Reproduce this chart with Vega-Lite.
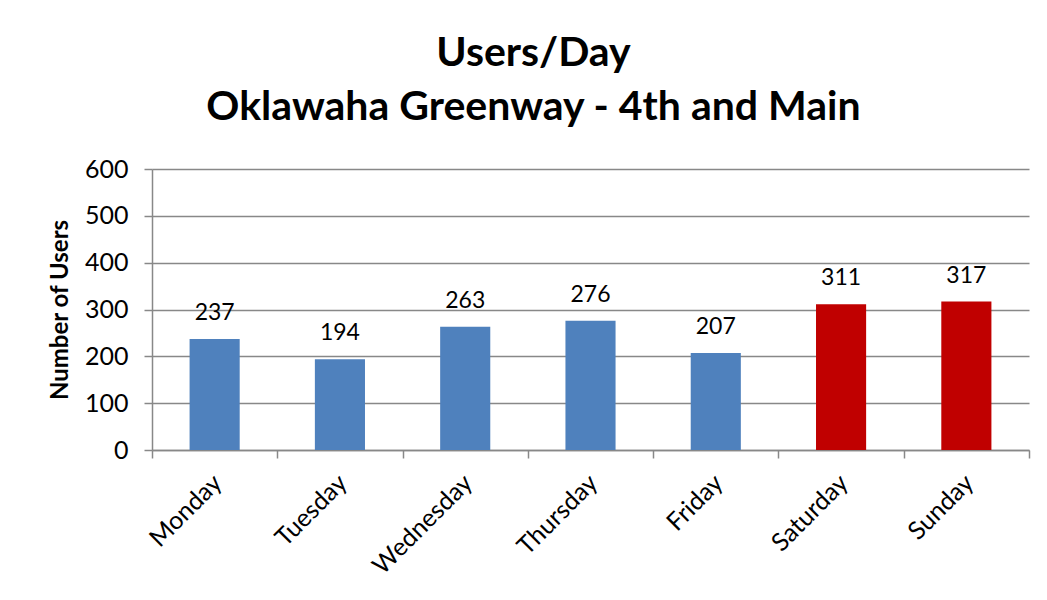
{
  "$schema": "https://vega.github.io/schema/vega-lite/v6.json",
  "autosize": "none",
  "width": 877,
  "height": 281,
  "padding": {"left": 152, "top": 169, "right": 18, "bottom": 150},
  "background": "white",
  "config": {
    "font": "Lato",
    "view": {"stroke": null}
  },
  "title": {
    "text": ["Users/Day", "Oklawaha Greenway - 4th and Main"],
    "fontSize": 41,
    "fontWeight": "bold",
    "font": "Lato",
    "color": "black",
    "anchor": "middle",
    "dx": -57,
    "offset": 28,
    "lineHeight": 54
  },
  "data": {
    "values": [
      {"day": "Monday", "users": 237, "type": "Weekday"},
      {"day": "Tuesday", "users": 194, "type": "Weekday"},
      {"day": "Wednesday", "users": 263, "type": "Weekday"},
      {"day": "Thursday", "users": 276, "type": "Weekday"},
      {"day": "Friday", "users": 207, "type": "Weekday"},
      {"day": "Saturday", "users": 311, "type": "Weekend"},
      {"day": "Sunday", "users": 317, "type": "Weekend"}
    ]
  },
  "encoding": {
    "x": {
      "field": "day",
      "type": "nominal",
      "sort": null,
      "scale": {"paddingInner": 0, "paddingOuter": 0},
      "axis": {
        "title": null,
        "labelAngle": -45,
        "labelFontSize": 25,
        "labelColor": "black",
        "labelPadding": 12,
        "labelOffset": -6,
        "tickBand": "extent",
        "tickSize": 8,
        "tickColor": "#888888",
        "tickWidth": 1.5,
        "domainColor": "#888888",
        "domainWidth": 1.5
      }
    },
    "y": {
      "field": "users",
      "type": "quantitative",
      "scale": {"domain": [0, 600]},
      "axis": {
        "title": "Number of Users",
        "titleFontSize": 24,
        "titleFontWeight": "bold",
        "titleColor": "black",
        "titlePadding": 12,
        "values": [0, 100, 200, 300, 400, 500, 600],
        "labelFontSize": 25,
        "labelColor": "black",
        "labelPadding": 16,
        "tickSize": 8,
        "tickColor": "#888888",
        "tickWidth": 1.5,
        "domainColor": "#888888",
        "domainWidth": 1.5,
        "gridColor": "#888888",
        "gridWidth": 1.5
      }
    }
  },
  "layer": [
    {
      "mark": {"type": "bar", "width": {"band": 0.4}},
      "encoding": {
        "color": {
          "field": "type",
          "type": "nominal",
          "scale": {"domain": ["Weekday", "Weekend"], "range": ["#4F81BD", "#C00000"]},
          "legend": null
        }
      }
    },
    {
      "mark": {"type": "text", "baseline": "alphabetic", "dy": -19, "fontSize": 23, "color": "black"},
      "encoding": {
        "text": {"field": "users", "type": "quantitative"}
      }
    }
  ]
}
